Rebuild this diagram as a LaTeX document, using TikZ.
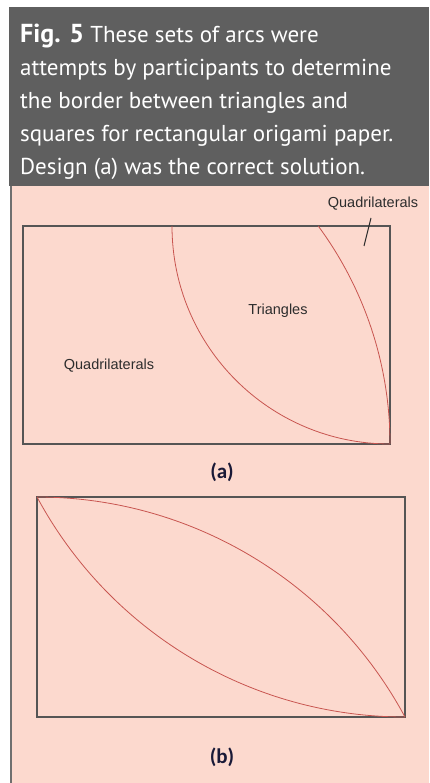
\documentclass[tikz,border=0pt]{standalone}
\usepackage{fontspec}
\setmainfont{PT Sans}
\newfontfamily\labfont{Liberation Sans}
\newfontfamily\capfont{Carlito}
\definecolor{hdrgray}{RGB}{95,95,95}
\definecolor{paper}{RGB}{252,217,206}
\definecolor{edge}{RGB}{85,85,85}
\definecolor{arcred}{RGB}{200,85,80}
\definecolor{labtext}{RGB}{45,45,45}
\definecolor{captext}{RGB}{25,25,55}
\begin{document}
\begin{tikzpicture}[x=1pt,y=1pt,
  hdrline/.style={anchor=base west,inner sep=0pt,text=white,font=\fontsize{23}{27}\selectfont},
  lab/.style={inner sep=0pt,text=labtext,font=\labfont\fontsize{14.5}{17}\selectfont},
  panelcap/.style={inner sep=0pt,text=captext,font=\capfont\bfseries\fontsize{21}{24}\selectfont},
  frame/.style={draw=edge,line width=1.4pt},
  border/.style={draw=arcred,line width=0.8pt}]
\useasboundingbox (0,0) rectangle (429,-783);
\fill[white] (0,0) rectangle (429,-783);
% header
\fill[hdrgray] (9,-7) rectangle (429,-186);
\fill[paper] (10,-186) rectangle (429,-783);
\draw[draw=hdrgray!90,line width=2pt] (11,-186) -- (11,-783);
\node[hdrline] (l1) at (20,-43) {{\fontsize{26}{28}\selectfont\bfseries Fig. 5} These sets of arcs were};
\node[hdrline] (l2) at (20,-76) {attempts by participants to determine};
\node[hdrline] (l3) at (20,-109) {the border between triangles and};
\node[hdrline] (l4) at (20,-142) {squares for rectangular origami paper.};
\node[hdrline] (l5) at (20,-175) {Design (a) was the correct solution.};
% panel (a)
\draw[frame] (23,-226) rectangle (390,-444);
\draw[border] (172,-226) arc[start angle=180,end angle=270,radius=218pt];
\draw[border] (390,-444) arc[start angle=0,end angle=36.45,radius=367pt];
\node[lab] (qtop) at (373,-204) {Quadrilaterals};
\coordinate (tickA) at (371,-218);
\coordinate (tickB) at (364,-246);
\draw[draw=labtext,line width=1pt] (tickA) -- (tickB);
\node[lab] (tri) at (278,-311) {Triangles};
\node[lab] (qleft) at (109,-366) {Quadrilaterals};
\node[panelcap] (capa) at (222,-472) {(a)};
% panel (b)
\draw[frame] (37,-497) rectangle (405,-717);
\draw[border] (37,-497) arc[start angle=90,end angle=28.26,radius=417.8pt];
\draw[border] (405,-717) arc[start angle=270,end angle=208.26,radius=417.8pt];
\node[panelcap] (capb) at (222,-757) {(b)};
\end{tikzpicture}
\end{document}
